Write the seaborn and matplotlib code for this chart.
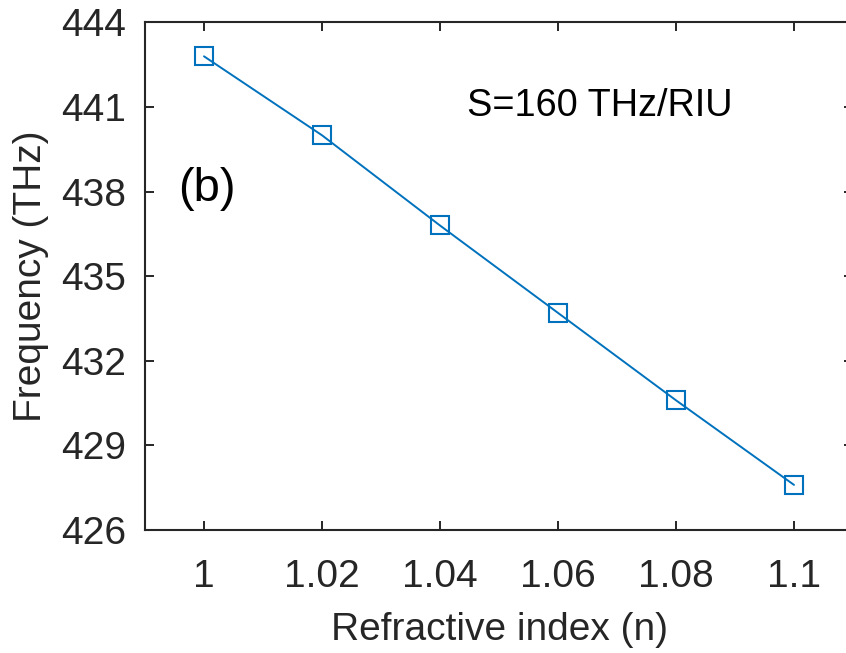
import matplotlib
matplotlib.use("Agg")
import matplotlib.pyplot as plt
import seaborn as sns
import pandas as pd

refractive_index = [1.00, 1.02, 1.04, 1.06, 1.08, 1.10]
frequency_thz = [442.8, 440.0, 436.8, 433.7, 430.6, 427.6]
x_ticks = [1.00, 1.02, 1.04, 1.06, 1.08, 1.10]
x_tick_labels = ["1", "1.02", "1.04", "1.06", "1.08", "1.1"]
y_ticks = [426, 429, 432, 435, 438, 441, 444]

sns.set_style("ticks")
plt.rcParams["font.family"] = ["Liberation Sans", "DejaVu Sans"]

df = pd.DataFrame({"n": refractive_index, "f": frequency_thz})

fig = plt.figure(figsize=(8.46, 6.53), dpi=100)
ax = fig.add_axes([145/846, (653-530)/653, (853-145)/846, (530-22.5)/653])

blue = "#0072BD"
sns.lineplot(data=df, x="n", y="f", ax=ax, color=blue, linewidth=1.4,
             marker="s", markersize=13.5, markerfacecolor="none",
             markeredgecolor=blue, markeredgewidth=1.5)

ax.set_xlim(0.99, 1.11)
ax.set_ylim(426, 444)
ax.set_xticks(x_ticks)
ax.set_xticklabels(x_tick_labels)
ax.set_yticks(y_ticks)

dark = "#262626"
for s in ax.spines.values():
    s.set_visible(True)
    s.set_linewidth(1.5)
    s.set_color(dark)
ax.tick_params(direction="in", length=6.5, width=1.4, colors=dark,
               labelsize=28, top=True, right=True)
ax.tick_params(axis="x", pad=21)
ax.tick_params(axis="y", pad=13.5)

ax.set_xlabel("Refractive index (n)", fontsize=28, color=dark, labelpad=12)
ax.set_ylabel("Frequency (THz)", fontsize=28, color=dark, labelpad=9)

ax.text(1.0446, 441.05, "S=160 THz/RIU", fontsize=27.3, color="black",
        ha="left", va="center")
ax.text(0.9956, 438.1, "(b)", fontsize=34, color="black",
        ha="left", va="center")

fig.savefig("out.png", dpi=100)
